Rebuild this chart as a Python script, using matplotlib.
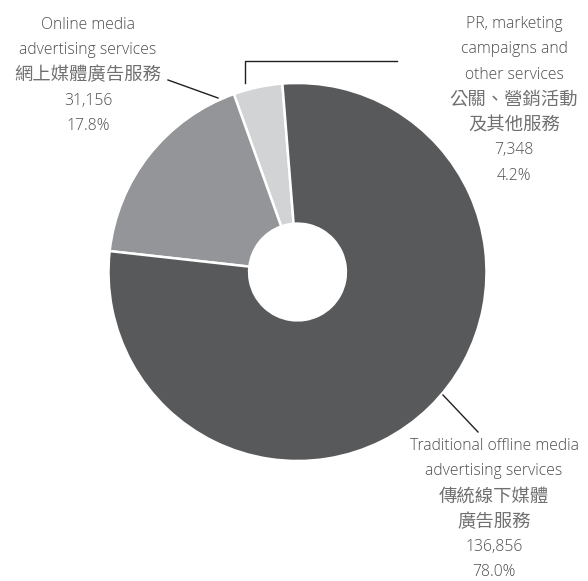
import matplotlib.pyplot as plt

# data
labels_en = [["PR, marketing", "campaigns and", "other services"],
             ["Online media", "advertising services"],
             ["Traditional offline media", "advertising services"]]
labels_zh = [["公關、營銷活動", "及其他服務"], ["網上媒體廣告服務"], ["傳統線下媒體", "廣告服務"]]
values = [7348, 31156, 136856]
shares = ["4.2%", "17.8%", "78.0%"]
colors = ["#d1d3d4", "#939598", "#58595b"]

W, H = 588, 581

fig = plt.figure(figsize=(W / 100, H / 100), dpi=100)
ax = fig.add_axes([0, 0, 1, 1])

cx, cy, r = 297.5, H - 272, 189
ax.pie(values, colors=colors, startangle=94.6, counterclock=True,
       center=(cx, cy), radius=r, frame=True,
       wedgeprops=dict(width=r * 0.744, edgecolor='white', linewidth=1.8))
ax.set_xlim(0, W)
ax.set_ylim(0, H)
ax.axis('off')

en = dict(ha='center', va='center', color='#4d4d4d', fontsize=11.3,
          family=['Open Sans', 'DejaVu Sans'], fontweight='light')
# CJK font only comes in a heavier weight here, so soften it with a lighter grey
zh = dict(ha='center', va='center', color='#707070', fontsize=13.2,
          family=['Open Sans', 'Noto Sans CJK TC', 'DejaVu Sans'])


def label(i, x, y0, step=25.3):
    lines = [(s, en) for s in labels_en[i]] + [(s, zh) for s in labels_zh[i]]
    lines += [(f"{values[i]:,}", en), (shares[i], en)]
    for k, (s, st) in enumerate(lines):
        ax.text(x, H - (y0 + k * step), s, **st)


label(0, 514, 24)
label(1, 88, 25)
label(2, 494, 446)

lc = dict(color='#231f20', lw=1.0)
ax.plot([168, 218], [H - 80, H - 98], **lc)
ax.plot([245, 245, 397], [H - 83, H - 61, H - 61], **lc)
ax.plot([443, 478], [H - 395, H - 432], **lc)

fig.savefig("out.png", dpi=100)
